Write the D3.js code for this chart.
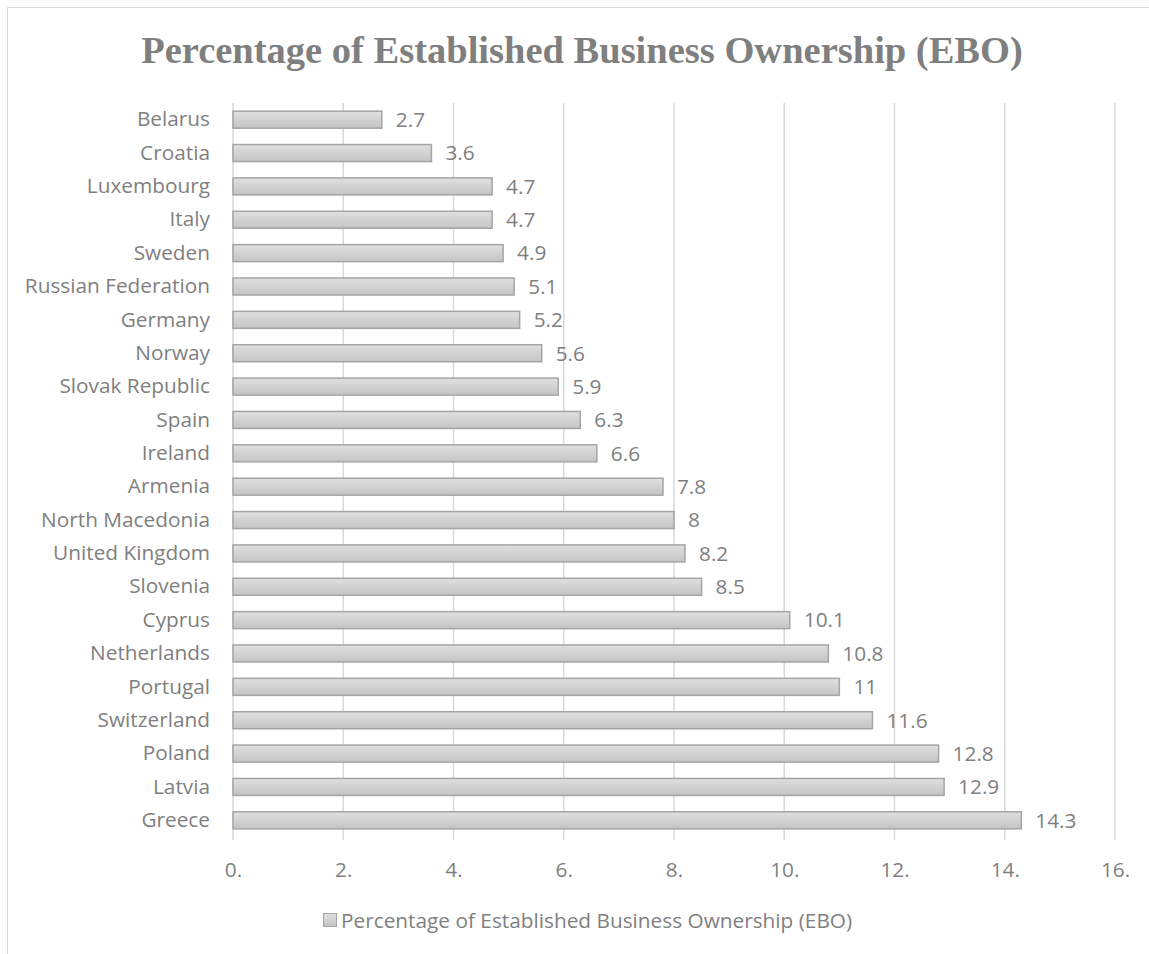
<!DOCTYPE html>
<html>
<head>
<meta charset="utf-8">
<script src="https://cdn.jsdelivr.net/npm/d3@7"></script>
<style>
  html, body { margin: 0; padding: 0; background: #fff; }
  svg { display: block; }
</style>
</head>
<body>
<svg id="chart" width="1149" height="954"></svg>
<script>
// Established business ownership rate by country
const countries = ["Belarus", "Croatia", "Luxembourg", "Italy", "Sweden", "Russian Federation",
  "Germany", "Norway", "Slovak Republic", "Spain", "Ireland", "Armenia", "North Macedonia",
  "United Kingdom", "Slovenia", "Cyprus", "Netherlands", "Portugal", "Switzerland", "Poland",
  "Latvia", "Greece"];
const eboValues = [2.7, 3.6, 4.7, 4.7, 4.9, 5.1, 5.2, 5.6, 5.9, 6.3, 6.6, 7.8, 8, 8.2, 8.5,
  10.1, 10.8, 11, 11.6, 12.8, 12.9, 14.3];
const tickValues = [0, 2, 4, 6, 8, 10, 12, 14, 16];
const tickLabels = ["0.", "2.", "4.", "6.", "8.", "10.", "12.", "14.", "16."];
const chartTitle = "Percentage of Established Business Ownership (EBO)";
const seriesName = "Percentage of Established Business Ownership (EBO)";

const data = countries.map((c, i) => ({ country: c, value: eboValues[i] }));

const svg = d3.select("#chart");
const W = 1149, H = 954;
const textFont = "'Open Sans', 'Noto Sans', sans-serif";
const textColor = "#7f7f7f";
const textSize = 20.8;

// chart frame
svg.append("path")
  .attr("d", `M7.5,${H} L7.5,7.5 L${W},7.5`)
  .attr("fill", "none")
  .attr("stroke", "#d9d9d9")
  .attr("stroke-width", 1);

const plot = { left: 233, right: 1115, top: 103, bottom: 837 };

const x = d3.scaleLinear().domain([0, 16]).range([plot.left, plot.right]);
const y = d3.scaleBand().domain(countries).range([plot.top, plot.bottom]).paddingInner(0.49).paddingOuter(0.245);

// gradient for bar fill
const defs = svg.append("defs");
const grad = defs.append("linearGradient").attr("id", "barGrad")
  .attr("x1", 0).attr("y1", 0).attr("x2", 0).attr("y2", 1);
grad.append("stop").attr("offset", "0%").attr("stop-color", "#e0e0e0");
grad.append("stop").attr("offset", "100%").attr("stop-color", "#c4c4c4");

// vertical gridlines
svg.append("g")
  .selectAll("line")
  .data(tickValues)
  .join("line")
  .attr("x1", d => x(d)).attr("x2", d => x(d))
  .attr("y1", plot.top).attr("y2", plot.bottom + 3)
  .attr("stroke", "#d9d9d9")
  .attr("stroke-width", 1.5);

// x-axis tick labels
const xAxis = d3.axisBottom(x)
  .tickValues(tickValues)
  .tickFormat((d, i) => tickLabels[i])
  .tickSize(0)
  .tickPadding(0);
const xg = svg.append("g").attr("transform", `translate(0,${plot.bottom + 33})`).call(xAxis);
xg.select(".domain").remove();
xg.selectAll("text")
  .attr("font-family", textFont).attr("font-size", textSize).attr("fill", textColor)
  .attr("dy", "0.35em");

// category labels
const yAxis = d3.axisLeft(y).tickSize(0).tickPadding(0);
const yg = svg.append("g").attr("transform", `translate(${plot.left - 23},0)`).call(yAxis);
yg.select(".domain").remove();
yg.selectAll("text")
  .attr("font-family", textFont).attr("font-size", textSize).attr("fill", textColor);

// bars
svg.append("g")
  .selectAll("rect")
  .data(data)
  .join("rect")
  .attr("x", x(0))
  .attr("y", d => y(d.country))
  .attr("width", d => x(d.value) - x(0))
  .attr("height", y.bandwidth())
  .attr("fill", "url(#barGrad)")
  .attr("stroke", "#a5a5a5")
  .attr("stroke-width", 1.5);

// value labels
svg.append("g")
  .selectAll("text")
  .data(data)
  .join("text")
  .attr("x", d => x(d.value) + 14)
  .attr("y", d => y(d.country) + y.bandwidth() / 2)
  .attr("dy", "0.35em")
  .attr("font-family", textFont).attr("font-size", textSize).attr("fill", textColor)
  .text(d => d.value);

// title
svg.append("text")
  .attr("x", 582).attr("y", 63)
  .attr("text-anchor", "middle")
  .attr("font-family", "'Liberation Serif', 'Times New Roman', serif")
  .attr("font-weight", "bold")
  .attr("font-size", 38.5)
  .attr("fill", "#7f7f7f")
  .text(chartTitle);

// legend
const lg = svg.append("g").attr("transform", "translate(323,913)");
lg.append("rect").attr("x", 0.5).attr("y", 0.5).attr("width", 13).attr("height", 13)
  .attr("fill", "url(#barGrad)").attr("stroke", "#a5a5a5").attr("stroke-width", 1);
lg.append("text").attr("x", 18).attr("y", 7.5).attr("dy", "0.35em")
  .attr("font-family", textFont).attr("font-size", textSize).attr("fill", textColor)
  .text(seriesName);
</script>
</body>
</html>
